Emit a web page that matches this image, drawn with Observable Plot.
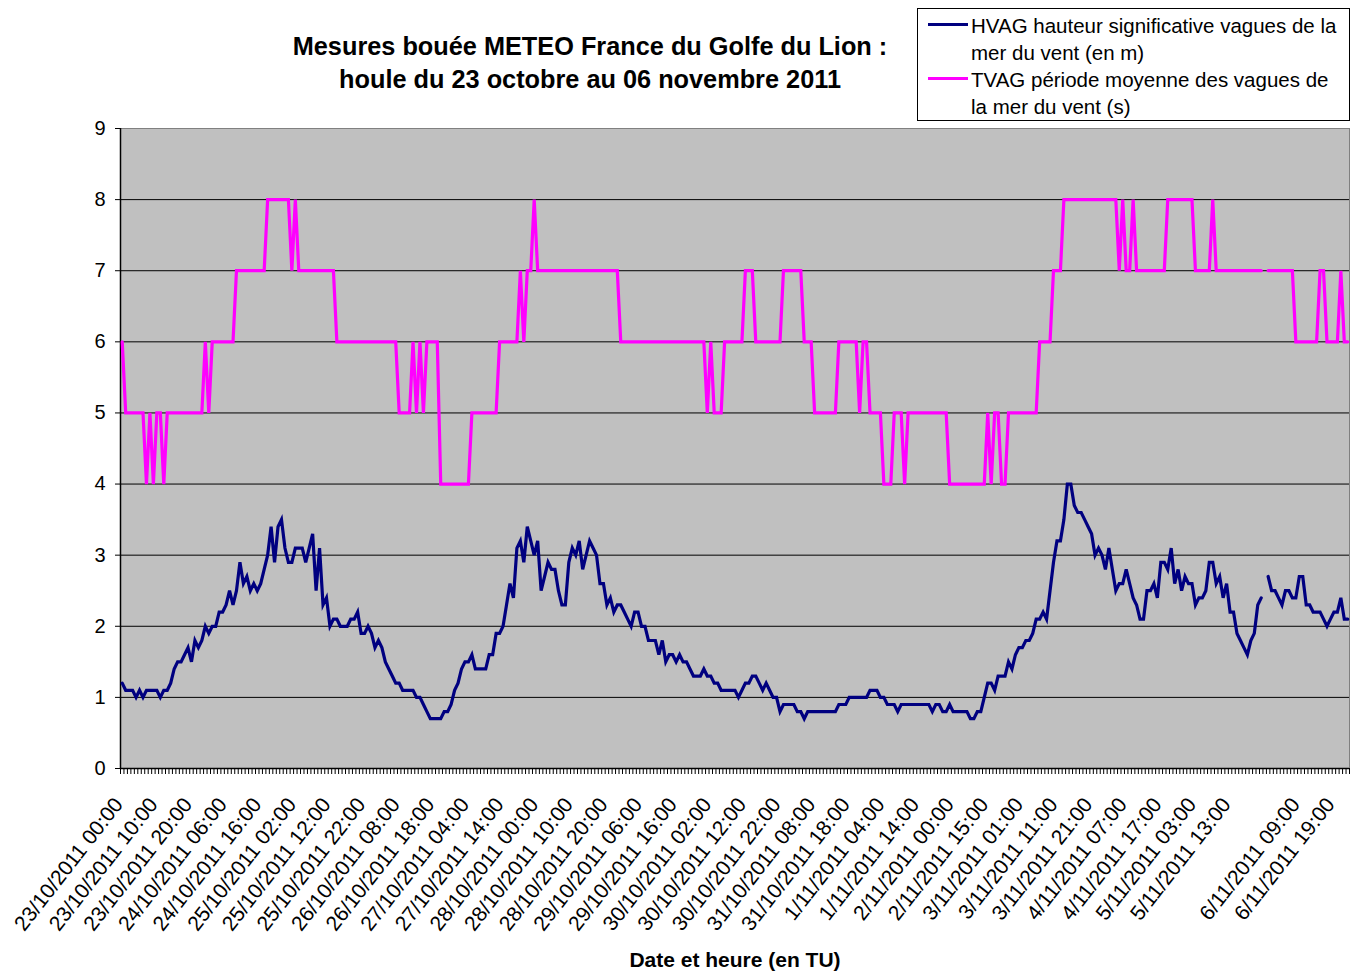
<!DOCTYPE html>
<html>
<head>
<meta charset="utf-8">
<script src="https://cdn.jsdelivr.net/npm/d3@7"></script>
<script src="https://cdn.jsdelivr.net/npm/@observablehq/plot@0.6"></script>
<style>
  html, body { margin: 0; padding: 0; background: #fff; }
  #wrap { position: relative; width: 1350px; height: 972px; font-family: "Liberation Sans", Arial, sans-serif; color: #000; }
  #chart { position: absolute; left: 0; top: 0; }
  .title { position: absolute; left: 190px; top: 30px; width: 800px; text-align: center; font-weight: bold; font-size: 25.3px; line-height: 33px; }
  .xtitle { position: absolute; left: 535px; top: 949px; width: 400px; text-align: center; font-weight: bold; font-size: 21px; line-height: 21px; }
  .legend { position: absolute; left: 917px; top: 8px; width: 431px; height: 111px; border: 1px solid #000; background: #fff; }
  .lg-line { position: absolute; left: 10px; width: 40px; height: 3px; }
  .lg-text { position: absolute; left: 53px; font-size: 20.5px; line-height: 27px; white-space: nowrap; }
</style>
</head>
<body>
<div id="wrap">
  <div id="chart"></div>
  <div class="title">Mesures bouée METEO France du Golfe du Lion :<br>houle du 23 octobre au 06 novembre 2011</div>
  <div class="legend">
    <div class="lg-line" style="top:13.5px;background:#000080"></div>
    <div class="lg-text" style="top:3px">HVAG hauteur significative vagues de la<br>mer du vent (en m)</div>
    <div class="lg-line" style="top:67.5px;background:#FF00FF"></div>
    <div class="lg-text" style="top:57px">TVAG période moyenne des vagues de<br>la mer du vent (s)</div>
  </div>
  <div class="xtitle">Date et heure (en TU)</div>
</div>
<script>
// Category tick labels (one label every 10 hourly categories; one blank category label)
const tickLabels = ["23/10/2011 00:00","23/10/2011 10:00","23/10/2011 20:00","24/10/2011 06:00","24/10/2011 16:00","25/10/2011 02:00","25/10/2011 12:00","25/10/2011 22:00","26/10/2011 08:00","26/10/2011 18:00","27/10/2011 04:00","27/10/2011 14:00","28/10/2011 00:00","28/10/2011 10:00","28/10/2011 20:00","29/10/2011 06:00","29/10/2011 16:00","30/10/2011 02:00","30/10/2011 12:00","30/10/2011 22:00","31/10/2011 08:00","31/10/2011 18:00","1/11/2011 04:00","1/11/2011 14:00","2/11/2011 00:00","2/11/2011 15:00","3/11/2011 01:00","3/11/2011 11:00","3/11/2011 21:00","4/11/2011 07:00","4/11/2011 17:00","5/11/2011 03:00","5/11/2011 13:00","","6/11/2011 09:00","6/11/2011 19:00"];
const labelEvery = 10;
const yTicks = [0,1,2,3,4,5,6,7,8,9];
const gridValues = [1,2,3,4,5,6,7,8];

// HVAG significant wave height (m), one value per hourly category
const hvag = [
1.2,1.1,1.1,1.1,1.0,1.1,1.0,1.1,1.1,1.1,
1.1,1.0,1.1,1.1,1.2,1.4,1.5,1.5,1.6,1.7,
1.5,1.8,1.7,1.8,2.0,1.9,2.0,2.0,2.2,2.2,
2.3,2.5,2.3,2.5,2.9,2.6,2.7,2.5,2.6,2.5,
2.6,2.8,3.0,3.4,2.9,3.4,3.5,3.1,2.9,2.9,
3.1,3.1,3.1,2.9,3.1,3.3,2.5,3.1,2.3,2.4,
2.0,2.1,2.1,2.0,2.0,2.0,2.1,2.1,2.2,1.9,
1.9,2.0,1.9,1.7,1.8,1.7,1.5,1.4,1.3,1.2,
1.2,1.1,1.1,1.1,1.1,1.0,1.0,0.9,0.8,0.7,
0.7,0.7,0.7,0.8,0.8,0.9,1.1,1.2,1.4,1.5,
1.5,1.6,1.4,1.4,1.4,1.4,1.6,1.6,1.9,1.9,
2.0,2.3,2.6,2.4,3.1,3.2,2.9,3.4,3.2,3.0,
3.2,2.5,2.7,2.9,2.8,2.8,2.5,2.3,2.3,2.9,
3.1,3.0,3.2,2.8,3.0,3.2,3.1,3.0,2.6,2.6,
2.3,2.4,2.2,2.3,2.3,2.2,2.1,2.0,2.2,2.2,
2.0,2.0,1.8,1.8,1.8,1.6,1.8,1.5,1.6,1.6,
1.5,1.6,1.5,1.5,1.4,1.3,1.3,1.3,1.4,1.3,
1.3,1.2,1.2,1.1,1.1,1.1,1.1,1.1,1.0,1.1,
1.2,1.2,1.3,1.3,1.2,1.1,1.2,1.1,1.0,1.0,
0.8,0.9,0.9,0.9,0.9,0.8,0.8,0.7,0.8,0.8,
0.8,0.8,0.8,0.8,0.8,0.8,0.8,0.9,0.9,0.9,
1.0,1.0,1.0,1.0,1.0,1.0,1.1,1.1,1.1,1.0,
1.0,0.9,0.9,0.9,0.8,0.9,0.9,0.9,0.9,0.9,
0.9,0.9,0.9,0.9,0.8,0.9,0.9,0.8,0.8,0.9,
0.8,0.8,0.8,0.8,0.8,0.7,0.7,0.8,0.8,1.0,
1.2,1.2,1.1,1.3,1.3,1.3,1.5,1.4,1.6,1.7,
1.7,1.8,1.8,1.9,2.1,2.1,2.2,2.1,2.5,2.9,
3.2,3.2,3.5,4.0,4.0,3.7,3.6,3.6,3.5,3.4,
3.3,3.0,3.1,3.0,2.8,3.1,2.8,2.5,2.6,2.6,
2.8,2.6,2.4,2.3,2.1,2.1,2.5,2.5,2.6,2.4,
2.9,2.9,2.8,3.1,2.6,2.8,2.5,2.7,2.6,2.6,
2.3,2.4,2.4,2.5,2.9,2.9,2.6,2.7,2.4,2.6,
2.2,2.2,1.9,1.8,1.7,1.6,1.8,1.9,2.3,2.4,
null,2.7,2.5,2.5,2.4,2.3,2.5,2.5,2.4,2.4,
2.7,2.7,2.3,2.3,2.2,2.2,2.2,2.1,2.0,2.1,
2.2,2.2,2.4,2.1,2.1
];

// TVAG mean wave period (s), one value per hourly category
const tvag = [
6,5,5,5,5,5,5,4,5,4,
5,5,4,5,5,5,5,5,5,5,
5,5,5,5,6,5,6,6,6,6,
6,6,6,7,7,7,7,7,7,7,
7,7,8,8,8,8,8,8,8,7,
8,7,7,7,7,7,7,7,7,7,
7,7,6,6,6,6,6,6,6,6,
6,6,6,6,6,6,6,6,6,6,
5,5,5,5,6,5,6,5,6,6,
6,6,4,4,4,4,4,4,4,4,
4,5,5,5,5,5,5,5,5,6,
6,6,6,6,6,7,6,7,7,8,
7,7,7,7,7,7,7,7,7,7,
7,7,7,7,7,7,7,7,7,7,
7,7,7,7,6,6,6,6,6,6,
6,6,6,6,6,6,6,6,6,6,
6,6,6,6,6,6,6,6,6,5,
6,5,5,5,6,6,6,6,6,6,
7,7,7,6,6,6,6,6,6,6,
6,7,7,7,7,7,7,6,6,6,
5,5,5,5,5,5,5,6,6,6,
6,6,6,5,6,6,5,5,5,5,
4,4,4,5,5,5,4,5,5,5,
5,5,5,5,5,5,5,5,5,4,
4,4,4,4,4,4,4,4,4,4,
5,4,5,5,4,4,5,5,5,5,
5,5,5,5,5,6,6,6,6,7,
7,7,8,8,8,8,8,8,8,8,
8,8,8,8,8,8,8,8,7,8,
7,7,8,7,7,7,7,7,7,7,
7,7,8,8,8,8,8,8,8,8,
7,7,7,7,7,8,7,7,7,7,
7,7,7,7,7,7,7,7,7,7,
null,7,7,7,7,7,7,7,7,6,
6,6,6,6,6,6,7,7,6,6,
6,6,7,6,6
];

const nCat = hvag.length;
const boundaries = d3.range(nCat + 1);

const chart = Plot.plot({
  width: 1350,
  height: 972,
  marginLeft: 120,
  marginRight: 1,
  marginTop: 128,
  marginBottom: 204,
  style: { fontFamily: '"Liberation Sans", Arial, sans-serif', fontSize: "20px", background: "transparent", color: "#000", overflow: "visible" },
  x: { domain: [0, nCat] },
  y: { domain: [0, 9] },
  marks: [
    Plot.frame({ fill: "#C0C0C0", stroke: "#808080" }),
    Plot.ruleY(gridValues, { stroke: "#000", strokeWidth: 1 }),
    Plot.axisY({ ticks: yTicks, tickSize: 5, tickPadding: 10, label: null, fontSize: 20, tickFormat: d => String(d) }),
    Plot.axisX({ ticks: boundaries, tickSize: 6, tickFormat: () => "", label: null }),
    Plot.text(tickLabels, {
      x: (d, i) => i * labelEvery + 0.5,
      text: d => d,
      frameAnchor: "bottom",
      rotate: -52,
      textAnchor: "end",
      lineAnchor: "top",
      dx: -10,
      dy: 27,
      fontSize: 21
    }),
    Plot.ruleX([0], { stroke: "#000", strokeWidth: 1.5 }),
    Plot.ruleY([0], { stroke: "#000", strokeWidth: 1.5 }),
    Plot.lineY(tvag, { x: (d, i) => i + 0.5, y: d => d, stroke: "#FF00FF", strokeWidth: 3.2, strokeLinejoin: "miter", strokeMiterlimit: 4 }),
    Plot.lineY(hvag, { x: (d, i) => i + 0.5, y: d => d, stroke: "#000080", strokeWidth: 3.2, strokeLinejoin: "miter", strokeMiterlimit: 4 })
  ]
});
document.getElementById("chart").appendChild(chart);
</script>
</body>
</html>
